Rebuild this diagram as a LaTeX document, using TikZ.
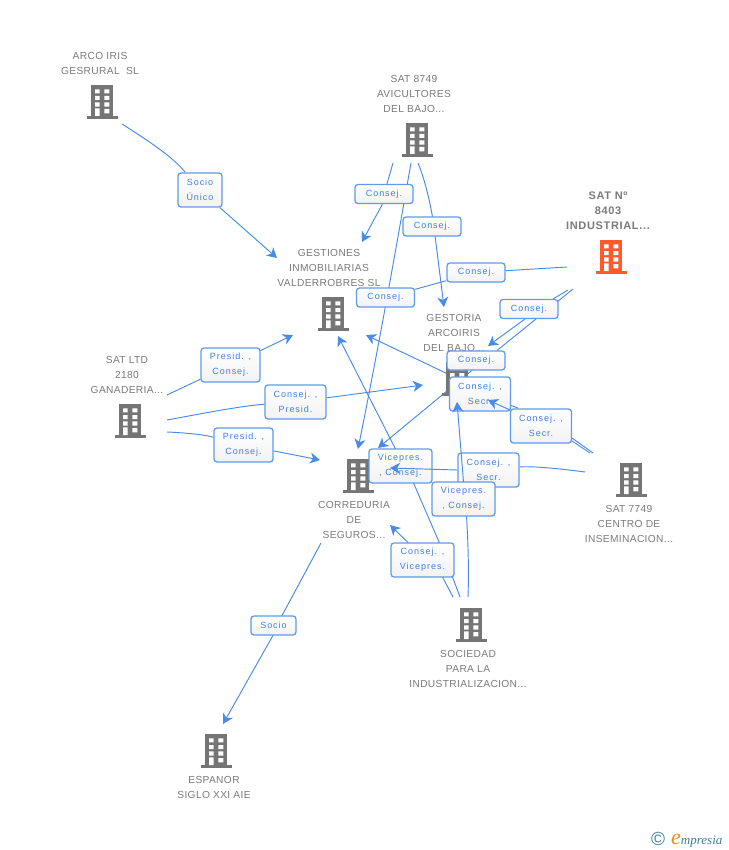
\documentclass[tikz,border=0pt]{standalone}
\usepackage{fontspec}
\setmainfont{Liberation Sans}
\newfontfamily\labfont[LetterSpace=11]{Liberation Sans}
\newfontfamily\entfont[LetterSpace=3.5]{Liberation Sans}
\newfontfamily\mainfont[LetterSpace=6]{Liberation Sans}
\newfontfamily\logofont{Liberation Serif}
\usetikzlibrary{arrows.meta,backgrounds}
\definecolor{linkblue}{HTML}{4A8BE6}
\definecolor{boxblue}{HTML}{5F9BE8}
\definecolor{labblue}{HTML}{3F80E0}
\definecolor{entgrey}{HTML}{7A7A7A}
\definecolor{bldgrey}{HTML}{757575}
\definecolor{bldred}{HTML}{FF5A2B}
\definecolor{logoteal}{HTML}{3F7F96}
\definecolor{logoorange}{HTML}{F08A1C}
\tikzset{
  conn/.style={draw=linkblue,line width=0.95pt},
  arr/.style={conn,-{Stealth[length=10pt,width=11pt,inset=3pt]}},
  lab/.style={draw=boxblue,line width=1.3pt,rounded corners=3pt,top color=white,bottom color=black!5,
    inner sep=0pt,align=center,text=labblue,font=\fontsize{9}{15}\selectfont\labfont},
  one/.style={lab,minimum width=58pt,minimum height=19pt},
  two/.style={lab,minimum width=61pt,minimum height=34pt},
  ent/.style={inner sep=0pt,align=center,text=entgrey,font=\fontsize{10.2}{15}\selectfont\entfont},
  mainent/.style={inner sep=0pt,align=center,text=entgrey,font=\fontsize{11}{15}\selectfont\mainfont\bfseries},
  bld/.style={inner sep=0pt,minimum width=32pt,minimum height=34pt}
}
\newcommand{\bldg}[3]{%
  \node[bld] (#1) at (#2) {};
  \begin{scope}[shift={(#2)}]
    \fill[#3] (-11,-17) rectangle (11,14);
    \fill[#3] (-15.5,14) rectangle (16,16.7);
    \fill[white] (-7,-12.7) rectangle (-2.3,-8.7) (2.3,-12.7) rectangle (7.3,-8.7)
                 (-7,-6) rectangle (-2.3,-2) (2.3,-6) rectangle (7.3,-2)
                 (-7,0.3) rectangle (-2.3,4.7) (2.3,0.3) rectangle (7.3,4.7)
                 (-7,6.3) rectangle (-2.3,14) (2.3,7) rectangle (7.3,11.3);
  \end{scope}}
\begin{document}
\begin{tikzpicture}[x=1pt,y=-1pt]
\useasboundingbox (0,0) rectangle (728,850);
% entities
\bldg{arco}{102,102}{bldgrey}
\bldg{sat8749}{417,140}{bldgrey}
\bldg{satn}{611,257}{bldred}
\bldg{gestiones}{333,314}{bldgrey}
\bldg{gestoria}{457,379}{bldgrey}
\bldg{satltd}{130,421}{bldgrey}
\bldg{corr}{358,476}{bldgrey}
\bldg{sat7749}{631,480}{bldgrey}
\bldg{soc}{471,625}{bldgrey}
\bldg{espanor}{216,751}{bldgrey}
\node[ent] (tarco) at (100,63.5) {ARCO IRIS\\GESRURAL\ \ SL};
\node[ent] (t8749) at (414,94) {SAT 8749\\AVICULTORES\\DEL BAJO...};
\node[mainent] (tsatn) at (608,211) {SAT Nº\\8403\\INDUSTRIAL...};
\node[ent] (tgestiones) at (329,268) {GESTIONES\\INMOBILIARIAS\\VALDERROBRES SL};
\node[ent] (tgestoria) at (454,333) {GESTORIA\\ARCOIRIS\\DEL BAJO...};
\node[ent] (tltd) at (127,375) {SAT LTD\\2180\\GANADERIA...};
\node[ent] (tcorr) at (354,520) {CORREDURIA\\DE\\SEGUROS...};
\node[ent] (t7749) at (629,524) {SAT 7749\\CENTRO DE\\INSEMINACION...};
\node[ent] (tsoc) at (468,669) {SOCIEDAD\\PARA LA\\INDUSTRIALIZACION...};
\node[ent] (tesp) at (214,787.5) {ESPANOR\\SIGLO XXI AIE};
% labels
\node[two,minimum width=44pt] (l1) at (200,190) {Socio\\Único};
\node[one] (l2) at (384,194) {Consej.};
\node[one] (l3) at (432,226.5) {Consej.};
\node[one] (l4) at (385.5,297.5) {Consej.};
\node[one] (l5) at (476,272.5) {Consej.};
\node[one] (l6) at (529,309) {Consej.};
\node[one] (l7) at (476,360.5) {Consej.};
\node[two] (l8) at (480,394) {Consej. ,\\Secr.};
\node[two] (l9) at (541,426) {Consej. ,\\Secr.};
\node[two,minimum width=59pt] (l10) at (230.5,365) {Presid. ,\\Consej.};
\node[two] (l11) at (295.5,402) {Consej. ,\\Presid.};
\node[two,minimum width=59pt] (l12) at (243.5,445) {Presid. ,\\Consej.};
\node[two] (l13) at (488.5,470) {Consej. ,\\Secr.};
\node[two,minimum width=63pt] (l14) at (400.5,466) {Vicepres.\\, Consej.};
\node[two,minimum width=63pt] (l16) at (422.5,560) {Consej. ,\\Vicepres.};
\node[one,minimum width=45pt] (l17) at (273.5,625.5) {Socio};
% free ends
\coordinate (s1) at (122,124);
\coordinate (c1) at (160,148);
\coordinate (t1) at (277,258);
\coordinate (s2) at (393,163);
\coordinate (t2) at (362,242);
\coordinate (s3) at (418,163);
\coordinate (t3) at (444,307);
\coordinate (s4) at (411,163);
\coordinate (t4) at (358,449);
\coordinate (s5) at (567,267);
\coordinate (s6) at (568,290);
\coordinate (t6) at (488,346);
\coordinate (s7) at (573,289);
\coordinate (t7) at (378,448);
\coordinate (s8) at (450,375);
\coordinate (t8) at (366,335);
\coordinate (s10) at (167,395);
\coordinate (t10) at (293,335);
\coordinate (s11) at (167,420);
\coordinate (t11) at (423,385);
\coordinate (s12) at (167,432);
\coordinate (t12) at (320,460);
\coordinate (s13) at (585,472);
\coordinate (t13) at (390,468);
\coordinate (s14) at (593,453);
\coordinate (t14) at (488,400);
\coordinate (s15) at (590,453);
\coordinate (t15) at (490,398);
\coordinate (s16) at (468,597);
\coordinate (t16) at (457,402);
\coordinate (s17) at (460,597);
\coordinate (t17) at (390,525);
\coordinate (s18) at (453,597);
\coordinate (t18) at (338,336);
\coordinate (s19) at (321,543);
\coordinate (t19) at (223,724);
\begin{scope}[on background layer]
\draw[conn] (s1) .. controls (c1) and (175,160) .. (l1);
\draw[arr] (l1) -- (t1);
\draw[conn] (s2) -- (l2);
\draw[arr] ([shift={(-1,9)}]l2.center) -- (t2);
\draw[conn] (s3) .. controls (425,180) and (431,205) .. ([shift={(2,0)}]l3.center);
\draw[arr] ([shift={(3,9)}]l3.center) -- (t3);
\draw[arr] (s4) .. controls (400,225) and (382,330) .. (t4);
\draw[conn] (s5) -- (l5);
\draw[conn] (l5) -- (l4);
\draw[conn] (s6) -- ([shift={(24,-10)}]l6.center);
\draw[arr] ([shift={(-4,10)}]l6.center) -- (t6);
\draw[conn] (s7) -- ([shift={(28,-7)}]l6.center);
\draw[conn] ([shift={(7,10)}]l6.center) -- ([shift={(21,-10)}]l7.center);
\draw[arr] ([shift={(-3,9)}]l7.center) -- (t7);
\draw[arr] (s8) -- (t8);
\draw[conn] (s10) -- (l10);
\draw[arr] (l10) -- (t10);
\draw[conn] (s11) .. controls (200,414) and (240,406) .. (l11);
\draw[arr] (l11) -- (t11);
\draw[conn] (s12) .. controls (190,433) and (205,435) .. (l12);
\draw[arr] (l12) -- (t12);
\draw[conn] (s13) .. controls (555,468) and (530,466) .. (l13);
\draw[conn] (s14) -- ([shift={(31,12)}]l9.center);
\draw[conn] (s15) -- ([shift={(31,15)}]l9.center);
\draw[conn] ([shift={(-23,-18)}]l9.center) -- (t15);
\draw[conn] (s17) -- ([shift={(30,17)}]l16.center);
\draw[arr] ([shift={(-14,-17)}]l16.center) -- (t17);
\draw[conn] (s18) -- ([shift={(20,17)}]l16.center);
\draw[conn] ([shift={(17,-17)}]l16.center) -- ([shift={(13,17)}]l14.center);
\draw[arr] ([shift={(-5,-17)}]l14.center) -- (t18);
\draw[conn] (s19) -- ([shift={(8,-9)}]l17.center);
\draw[arr] ([shift={(0,9)}]l17.center) -- (t19);
\end{scope}
% connectors that run over the label boxes
\draw[arr] (l13.west) -- (t13);
\draw[arr] ([shift={(-31,-16)}]l9.center) -- (t14);
\node[two,minimum width=63pt] (l15) at (463.5,499) {Vicepres.\\, Consej.};
\draw[arr] ([shift={(0,-17)}]l15.center) -- (t16);
\begin{scope}[on background layer]
\draw[conn] (s16) .. controls (469,570) and (468,540) .. ([shift={(3,17)}]l15.center);
\end{scope}
% logo
\node[inner sep=0pt,text=logoteal,font=\fontsize{19}{19}\selectfont] (logoc) at (658,839) {©};
\node[inner sep=0pt,anchor=base west,font=\fontsize{13}{13}\selectfont\logofont\itshape] (logot) at (671,844)
  {\textcolor{logoorange}{\fontsize{22}{22}\selectfont e}\textcolor{logoteal}{mpresia}};
\end{tikzpicture}
\end{document}
